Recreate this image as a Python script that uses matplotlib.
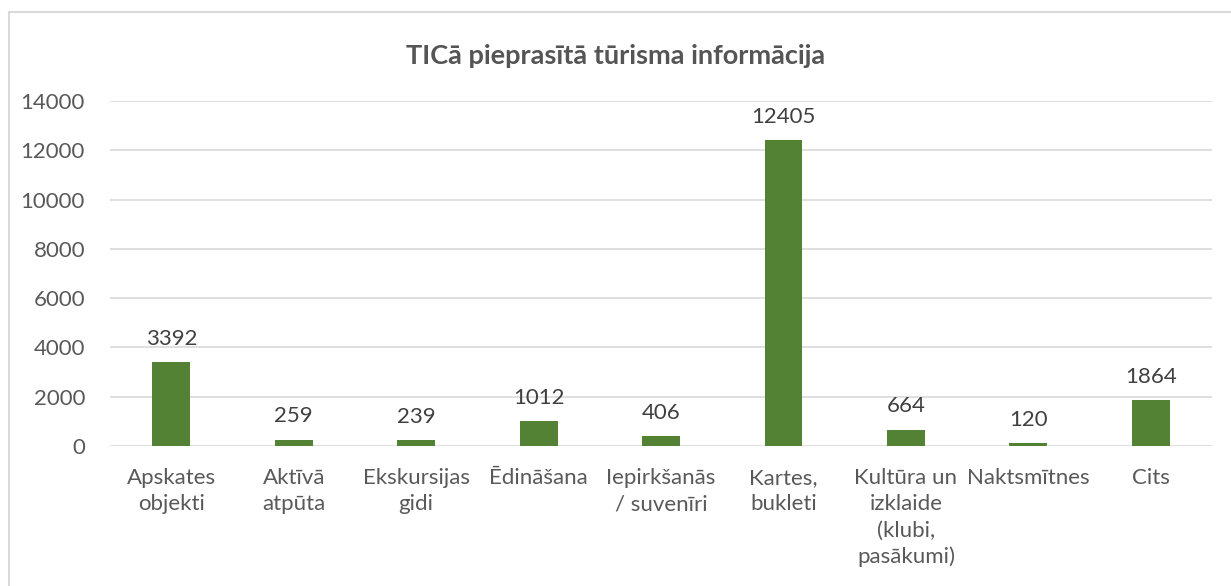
import matplotlib
matplotlib.use("Agg")
import matplotlib.pyplot as plt
from matplotlib.patches import Rectangle
import numpy as np

categories = ["Apskates\nobjekti", "Aktīvā\natpūta", "Ekskursijas\ngidi", "Ēdināšana",
              "Iepirkšanās\n/ suvenīri", "Kartes,\nbukleti", "Kultūra un\nizklaide\n(klubi,\npasākumi)",
              "Naktsmītnes", "Cits"]
values = [3392, 259, 239, 1012, 406, 12405, 664, 120, 1864]
yticks = [0, 2000, 4000, 6000, 8000, 10000, 12000, 14000]
title = "TICā pieprasītā tūrisma informācija"

plt.rcParams['font.family'] = ['Lato', 'DejaVu Sans']

fig = plt.figure(figsize=(12.31, 5.86), dpi=100)
ax = fig.add_axes([0.0894, 0.2389, 0.8952, 0.5887])

# outer chart frame (cut off at right and bottom like the screenshot)
fig.patches.append(Rectangle((8.5 / 1231, -0.1), 1.2, 0.1 + 0.9787, transform=fig.transFigure,
                             fill=False, edgecolor="#D9D9D9", linewidth=1.5))

x = np.arange(len(values))
ax.bar(x, values, width=0.31, color="#548235", zorder=3)
for xi, v in zip(x, values):
    ax.annotate(str(v), (xi, v), xytext=(0, 9.5), textcoords="offset points",
                ha="center", va="bottom", fontsize=16, color="#404040")

ax.set_xlim(-0.5, len(values) - 0.5)
ax.set_ylim(0, 14000)
ax.set_yticks(yticks)
ax.set_yticklabels([str(t) for t in yticks])
ax.set_xticks(x)
ax.set_xticklabels(categories, fontsize=16, color="#595959", linespacing=1.38, va="top")
ax.tick_params(axis="y", labelsize=16, labelcolor="#595959", length=0, pad=18)
ax.tick_params(axis="x", length=0, pad=16)
ax.grid(axis="y", color="#D9D9D9", linewidth=1.2, zorder=0)
for s in ax.spines.values():
    s.set_visible(False)

fig.text(0.5 + 0.0, 1 - 56 / 586, title, ha="center", va="center", fontsize=19.5,
         fontweight="bold", color="#555555")

fig.savefig("out.png", dpi=100)
